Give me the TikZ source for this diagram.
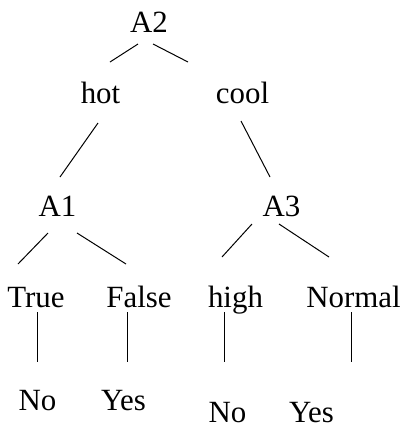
\documentclass[tikz,border=0pt]{standalone}
\usepackage{fontspec}
\setmainfont{Liberation Serif}
\begin{document}
\begin{tikzpicture}[x=1bp,y=-1bp,
  lbl/.style={anchor=base,inner sep=0pt,font=\fontsize{31}{36}\selectfont},
  edge/.style={line width=1bp}]
\useasboundingbox (0,0) rectangle (404,428);
% labels
\node[lbl] (A2) at (149,32) {A2};
\node[lbl] (hot) at (100.5,103) {hot};
\node[lbl] (cool) at (242.5,103) {cool};
\node[lbl] (A1) at (57.5,216) {A1};
\node[lbl] (A3) at (281.5,216) {A3};
\node[lbl] (true) at (36,307) {True};
\node[lbl] (false) at (139,307) {False};
\node[lbl] (high) at (235.5,307) {high};
\node[lbl] (normal) at (353.5,307) {Normal};
\node[lbl] (no1) at (37.5,410) {No};
\node[lbl] (yes1) at (123.5,410) {Yes};
\node[lbl] (no2) at (227.5,422) {No};
\node[lbl] (yes2) at (311.5,422) {Yes};
% connector end points
\coordinate (a2l1) at (138,44);  \coordinate (a2l2) at (110,62);
\coordinate (a2r1) at (153,44);  \coordinate (a2r2) at (188,62);
\coordinate (hot1) at (98,123);  \coordinate (hot2) at (60,177);
\coordinate (cool1) at (241,121); \coordinate (cool2) at (270,177);
\coordinate (a1l1) at (48,233);  \coordinate (a1l2) at (18,264);
\coordinate (a1r1) at (77,233);  \coordinate (a1r2) at (126,264);
\coordinate (a3l1) at (252,224); \coordinate (a3l2) at (222,257);
\coordinate (a3r1) at (279,224); \coordinate (a3r2) at (329,257);
\coordinate (tr1) at (37,312);   \coordinate (tr2) at (37,362);
\coordinate (fa1) at (127,312);  \coordinate (fa2) at (127,362);
\coordinate (hi1) at (224,312);  \coordinate (hi2) at (224,362);
\coordinate (nm1) at (351,312);  \coordinate (nm2) at (351,362);
% connectors
\draw[edge] (a2l1) -- (a2l2);
\draw[edge] (a2r1) -- (a2r2);
\draw[edge] (hot1) -- (hot2);
\draw[edge] (cool1) -- (cool2);
\draw[edge] (a1l1) -- (a1l2);
\draw[edge] (a1r1) -- (a1r2);
\draw[edge] (a3l1) -- (a3l2);
\draw[edge] (a3r1) -- (a3r2);
\draw[edge] (tr1) -- (tr2);
\draw[edge] (fa1) -- (fa2);
\draw[edge] (hi1) -- (hi2);
\draw[edge] (nm1) -- (nm2);
\end{tikzpicture}
\end{document}
